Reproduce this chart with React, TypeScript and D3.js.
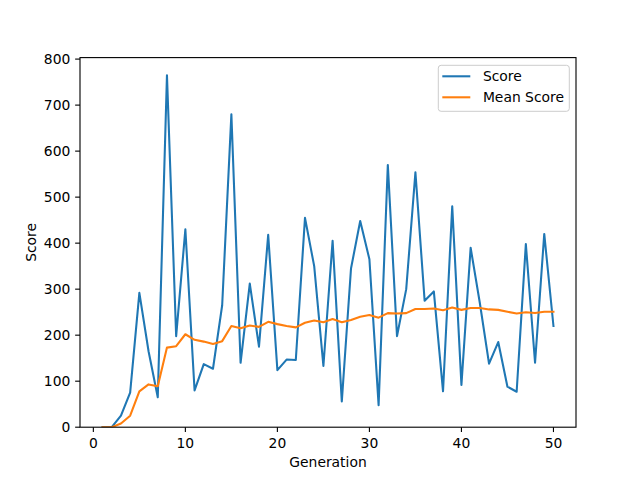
import * as d3 from "d3"

const generations = d3.range(1, 51)

const scores = [
  0, 0, 25, 75, 292, 165, 65, 765, 198, 430,
  80, 137, 127, 265, 680, 140, 312, 175, 418, 124,
  147, 146, 455, 350, 133, 405, 56, 345, 448, 365,
  48, 570, 198, 300, 554, 275, 295, 78, 480, 92,
  390, 270, 138, 185, 88, 77, 398, 140, 420, 220,
]

const meanScores = [
  0, 0, 8, 25, 78, 93, 89, 173, 176, 202,
  190, 186, 181, 187, 220, 215, 221, 218, 229, 224,
  220, 217, 227, 232, 228, 235, 228, 233, 240, 244,
  238, 248, 247, 248, 257, 257, 258, 254, 260, 255,
  259, 259, 256, 255, 251, 247, 250, 248, 251, 251,
]

const xTicks = [0, 10, 20, 30, 40, 50]
const yTicks = [0, 100, 200, 300, 400, 500, 600, 700, 800]

const series = [
  { name: "Score", values: scores, color: "#1f77b4" },
  { name: "Mean Score", values: meanScores, color: "#ff7f0e" },
]

const W = 640
const H = 480
const left = 80
const right = 576
const top = 57.6
const bottom = 427.2
const font = "'DejaVu Sans', sans-serif"
const fs = 13.89

export default function App() {
  const x = d3.scaleLinear([-1.45, 52.45], [left, right])
  const y = d3.scaleLinear([0, 803.25], [bottom, top])

  const line = d3
    .line<number>()
    .x((_, i) => x(generations[i]))
    .y((d) => y(d))

  // legend box, upper right
  const lgRight = 569.3
  const lgTop = 65.3
  const lgW = 131
  const lgLeft = lgRight - lgW
  const rowH = 21

  return (
    <svg
      width={W}
      height={H}
      style={{ position: "absolute", left: 0, top: 0, background: "#fff" }}
      fontFamily={font}
    >
      <defs>
        <clipPath id="plot">
          <rect x={left} y={top} width={right - left} height={bottom - top} />
        </clipPath>
      </defs>

      <g clipPath="url(#plot)">
        {series.map((s) => (
          <path
            key={s.name}
            d={line(s.values) ?? ""}
            fill="none"
            stroke={s.color}
            strokeWidth={2.08}
            strokeLinejoin="round"
            strokeLinecap="square"
          />
        ))}
      </g>

      <rect
        x={left}
        y={top}
        width={right - left}
        height={bottom - top}
        fill="none"
        stroke="#000"
        strokeWidth={1.11}
      />

      {xTicks.map((t) => (
        <g key={t} transform={`translate(${x(t)},${bottom})`}>
          <line y2={4.86} stroke="#000" strokeWidth={1.11} />
          <text y={21} textAnchor="middle" fontSize={fs} fill="#000">
            {t}
          </text>
        </g>
      ))}

      {yTicks.map((t) => (
        <g key={t} transform={`translate(${left},${y(t)})`}>
          <line x2={-4.86} stroke="#000" strokeWidth={1.11} />
          <text x={-9.7} dy="0.36em" textAnchor="end" fontSize={fs} fill="#000">
            {t}
          </text>
        </g>
      ))}

      <text x={(left + right) / 2} y={467} textAnchor="middle" fontSize={fs}>
        Generation
      </text>
      <text
        transform={`translate(35.5,${(top + bottom) / 2}) rotate(-90)`}
        textAnchor="middle"
        fontSize={fs}
      >
        Score
      </text>

      <rect
        x={lgLeft}
        y={lgTop}
        width={lgW}
        height={46}
        rx={2.8}
        fill="#fff"
        fillOpacity={0.8}
        stroke="#cccccc"
        strokeWidth={1}
      />
      {series.map((s, i) => {
        const cy = lgTop + 11 + i * rowH
        return (
          <g key={s.name}>
            <line
              x1={lgLeft + 4}
              x2={lgLeft + 32}
              y1={cy}
              y2={cy}
              stroke={s.color}
              strokeWidth={2.08}
            />
            <text x={lgLeft + 44.6} y={cy} dy="0.36em" fontSize={fs}>
              {s.name}
            </text>
          </g>
        )
      })}
    </svg>
  )
}
